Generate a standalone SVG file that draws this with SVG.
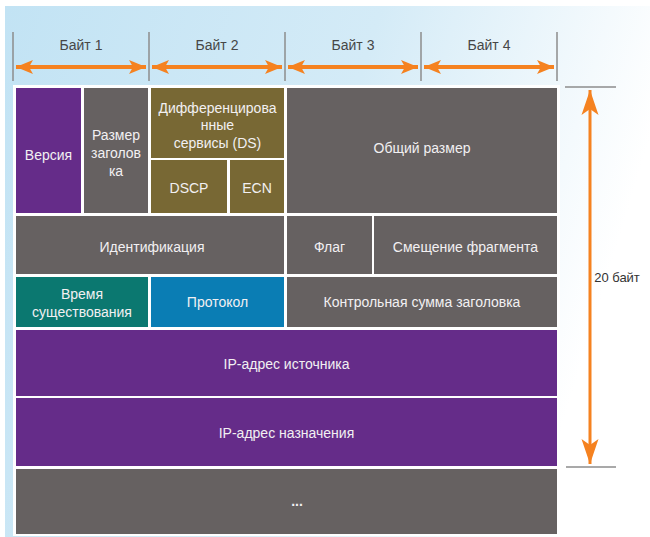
<svg xmlns="http://www.w3.org/2000/svg" width="650" height="537" viewBox="0 0 650 537">
<defs>
<linearGradient id="bg" x1="0" y1="0" x2="1" y2="0.25">
<stop offset="0" stop-color="#c2e3f4"/>
<stop offset="0.55" stop-color="#d4ebf7"/>
<stop offset="1" stop-color="#ffffff"/>
</linearGradient>
<marker id="ah" markerUnits="userSpaceOnUse" markerWidth="20" markerHeight="16" refX="17" refY="8" orient="auto-start-reverse" viewBox="0 0 20 16">
<path d="M17,8 L0,1 L4,8 L0,15 Z" fill="#f58220"/>
</marker>
<marker id="av" markerUnits="userSpaceOnUse" markerWidth="26" markerHeight="18" refX="25" refY="9" orient="auto-start-reverse" viewBox="0 0 26 18">
<path d="M25,9 L0,0.5 L6,9 L0,17.5 Z" fill="#f58220"/>
</marker>
</defs>
<style>
.hdr{font-family:"Liberation Sans",Roboto,Arial,sans-serif;font-size:14px;fill:#474747;text-anchor:middle}
.t{font-family:"Liberation Sans",Roboto,Arial,sans-serif;font-size:14px;fill:#f2f0f2;text-anchor:middle}
.tick{stroke:#8c8c8c;stroke-width:1.5}
.arr{stroke:#f58220;stroke-width:4;fill:none}
.purple{fill:#652c89}
.grey{fill:#666161}
.olive{fill:#786834}
.teal{fill:#0b7870}
.blue{fill:#0a7db4}
</style>
<rect x="0" y="0" width="650" height="537" fill="#ffffff"/>
<rect x="5" y="6" width="645" height="531" fill="url(#bg)"/>
<g id="header">
<line class="tick" x1="13" y1="32" x2="13" y2="81"/>
<line class="tick" x1="149" y1="32" x2="149" y2="81"/>
<line class="tick" x1="285" y1="32" x2="285" y2="81"/>
<line class="tick" x1="421" y1="32" x2="421" y2="81"/>
<line class="tick" x1="557" y1="32" x2="557" y2="81"/>
<text class="hdr" x="81" y="50">Байт 1</text>
<text class="hdr" x="217" y="50">Байт 2</text>
<text class="hdr" x="353" y="50">Байт 3</text>
<text class="hdr" x="489" y="50">Байт 4</text>
</g>
<g id="connectors">
<line class="arr" x1="16" y1="67" x2="146" y2="67" marker-start="url(#ah)" marker-end="url(#ah)"/>
<line class="arr" x1="152" y1="67" x2="282" y2="67" marker-start="url(#ah)" marker-end="url(#ah)"/>
<line class="arr" x1="288" y1="67" x2="418" y2="67" marker-start="url(#ah)" marker-end="url(#ah)"/>
<line class="arr" x1="424" y1="67" x2="554" y2="67" marker-start="url(#ah)" marker-end="url(#ah)"/>
<line class="tick" x1="565" y1="87" x2="616" y2="87"/>
<line class="tick" x1="566" y1="467" x2="616" y2="467"/>
<line x1="590" y1="90" x2="590" y2="464" stroke="#f58220" stroke-width="3" marker-start="url(#av)" marker-end="url(#av)"/>
<text x="617" y="282" font-family="'Liberation Sans',Roboto,Arial,sans-serif" font-size="13" fill="#333" text-anchor="middle">20 байт</text>
</g>
<rect x="13" y="85" width="547" height="451" fill="#ffffff"/>
<g id="version"><rect class="purple" x="16" y="88" width="65" height="125"/><text class="t" x="48.5" y="160">Версия</text></g>
<g id="ihl"><rect class="grey" x="84" y="88" width="64" height="125"/><text class="t" x="116" y="140">Размер</text><text class="t" x="116" y="158">заголов</text><text class="t" x="116" y="176">ка</text></g>
<g id="ds"><rect class="olive" x="151" y="88" width="133" height="70"/><text class="t" x="217.5" y="113">Дифференцирова</text><text class="t" x="217.5" y="130">нные</text><text class="t" x="217.5" y="148">сервисы (DS)</text></g>
<g id="dscp"><rect class="olive" x="151" y="160" width="76" height="53"/><text class="t" x="189" y="193">DSCP</text></g>
<g id="ecn"><rect class="olive" x="230" y="160" width="54" height="53"/><text class="t" x="257" y="193">ECN</text></g>
<g id="total"><rect class="grey" x="287" y="88" width="270" height="125"/><text class="t" x="422" y="153">Общий размер</text></g>
<g id="ident"><rect class="grey" x="16" y="216" width="268" height="58"/><text class="t" x="152" y="252">Идентификация</text></g>
<g id="flag"><rect class="grey" x="287" y="216" width="85" height="58"/><text class="t" x="329.5" y="252">Флаг</text></g>
<g id="offset"><rect class="grey" x="374" y="216" width="183" height="58"/><text class="t" x="465.5" y="252">Смещение фрагмента</text></g>
<g id="ttl"><rect class="teal" x="16" y="277" width="132" height="50"/><text class="t" x="82" y="299">Время</text><text class="t" x="82" y="317">существования</text></g>
<g id="proto"><rect class="blue" x="151" y="277" width="133" height="50"/><text class="t" x="217.5" y="307">Протокол</text></g>
<g id="checksum"><rect class="grey" x="287" y="277" width="270" height="50"/><text class="t" x="422" y="307">Контрольная сумма заголовка</text></g>
<g id="src"><rect class="purple" x="16" y="330" width="541" height="66"/><text class="t" x="286.5" y="369">IP-адрес источника</text></g>
<g id="dst"><rect class="purple" x="16" y="398" width="541" height="68"/><text class="t" x="286.5" y="438">IP-адрес назначения</text></g>
<g id="options"><rect class="grey" x="16" y="469" width="541" height="65"/><text class="t" x="297" y="506" font-weight="bold">...</text></g>
</svg>
